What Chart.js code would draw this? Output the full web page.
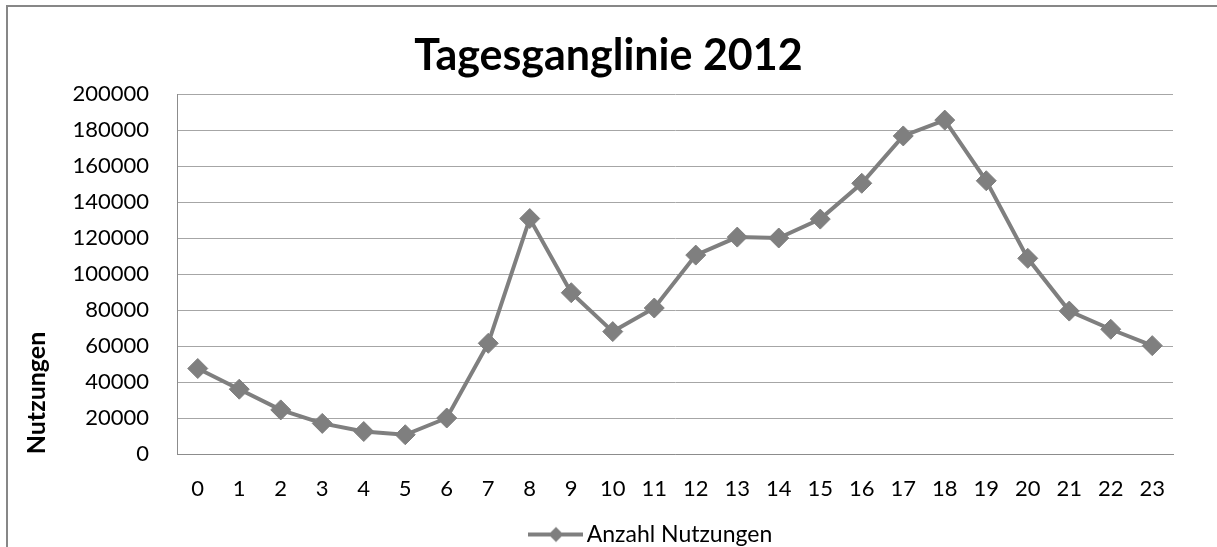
<!DOCTYPE html>
<html>
<head>
<meta charset="utf-8">
<script src="https://cdn.jsdelivr.net/npm/chart.js@4"></script>
<style>
  html, body { margin: 0; padding: 0; background: #fff; overflow: hidden; width: 1217px; height: 547px; }
  #wrap { position: absolute; left: 0; top: 0; width: 1217px; height: 556px; }
  #frame { position: absolute; left: 6px; top: 5px; width: 1300px; height: 600px; border: 2px solid #878787; pointer-events: none; }
</style>
</head>
<body>
<div id="wrap"><canvas id="c" width="1217" height="556"></canvas></div>
<div id="frame"></div>
<script>
const chartTitle = "Tagesganglinie 2012";
const yAxisTitle = "Nutzungen";
const seriesName = "Anzahl Nutzungen";
const hours = ["0","1","2","3","4","5","6","7","8","9","10","11","12","13","14","15","16","17","18","19","20","21","22","23"];
const nutzungen = [47500, 36000, 24500, 17000, 12500, 10700, 20000, 61500, 130800, 89600, 68000, 81100, 110500, 120500, 120000, 130500, 150400, 176700, 185500, 151800, 108700, 79400, 69300, 60200];
const yTicks = [0, 20000, 40000, 60000, 80000, 100000, 120000, 140000, 160000, 180000, 200000];

const lineColor = '#7f7f7f';
const fontFamily = 'Lato, "Open Sans", sans-serif';

// legend symbol: line with diamond (drawn at the right end of a wider transparent image)
const legendImg = document.createElement('canvas');
legendImg.width = 146; legendImg.height = 18;
(function(){
  const g = legendImg.getContext('2d');
  g.strokeStyle = lineColor; g.lineWidth = 4;
  g.beginPath(); g.moveTo(91, 9); g.lineTo(146, 9); g.stroke();
  g.fillStyle = lineColor;
  g.beginPath(); g.moveTo(119, 1.5); g.lineTo(126.5, 9); g.lineTo(119, 16.5); g.lineTo(111.5, 9); g.closePath(); g.fill();
})();

const yTitlePlugin = {
  id: 'yTitle',
  afterDraw(chart) {
    const ctx = chart.ctx;
    ctx.save();
    ctx.font = 'bold 25px ' + fontFamily;
    ctx.fillStyle = '#000';
    ctx.textAlign = 'center';
    ctx.textBaseline = 'middle';
    ctx.translate(37, 393);
    ctx.rotate(-Math.PI / 2);
    ctx.fillText(yAxisTitle, 0, 0);
    ctx.restore();
  }
};

new Chart(document.getElementById('c'), {
  type: 'line',
  data: {
    labels: hours,
    datasets: [{
      label: seriesName,
      data: nutzungen,
      borderColor: lineColor,
      backgroundColor: lineColor,
      borderWidth: 4,
      pointStyle: 'rectRot',
      pointRadius: 10,
      pointBorderWidth: 1,
      pointBackgroundColor: lineColor,
      pointBorderColor: lineColor,
      tension: 0,
      yAxisID: 'y'
    }]
  },
  options: {
    responsive: false,
    animation: false,
    events: [],
    layout: { padding: { left: 0, right: 0, top: 0, bottom: 0 } },
    plugins: {
      title: {
        display: true,
        text: chartTitle,
        color: '#000',
        font: { family: fontFamily, size: 43, weight: 'bold' },
        padding: { top: 30.7, bottom: 11.7 }
      },
      legend: {
        position: 'bottom',
        labels: {
          usePointStyle: true,
          pointStyle: legendImg,
          pointStyleWidth: 130.5,
          color: '#000',
          font: { family: fontFamily, size: 23 },
          padding: 10
        }
      },
      tooltip: { enabled: false }
    },
    scales: {
      x: {
        type: 'category',
        offset: true,
        grid: { display: false, drawTicks: false },
        border: { display: true, color: '#8c8c8c', width: 1 },
        ticks: { color: '#000', font: { family: fontFamily, size: 22 }, padding: 22, maxRotation: 0, autoSkip: false },
        afterFit(s) { s.height = 59; }
      },
      y: {
        position: 'left',
        min: 0, max: 200000,
        afterBuildTicks(s) { s.ticks = yTicks.map(v => ({ value: v })); },
        grid: { color: '#a6a6a6', lineWidth: 1, drawTicks: false },
        border: { display: true, color: '#8c8c8c', width: 1 },
        ticks: { color: '#000', font: { family: fontFamily, size: 22 }, padding: 28, callback: v => String(v) },
        afterFit(s) { s.width = 177; }
      },
      y2: {
        position: 'right',
        display: true,
        grid: { display: false, drawTicks: false },
        border: { display: false },
        ticks: { display: false },
        afterFit(s) { s.width = 44; }
      }
    }
  },
  plugins: [yTitlePlugin]
});
</script>
</body>
</html>
